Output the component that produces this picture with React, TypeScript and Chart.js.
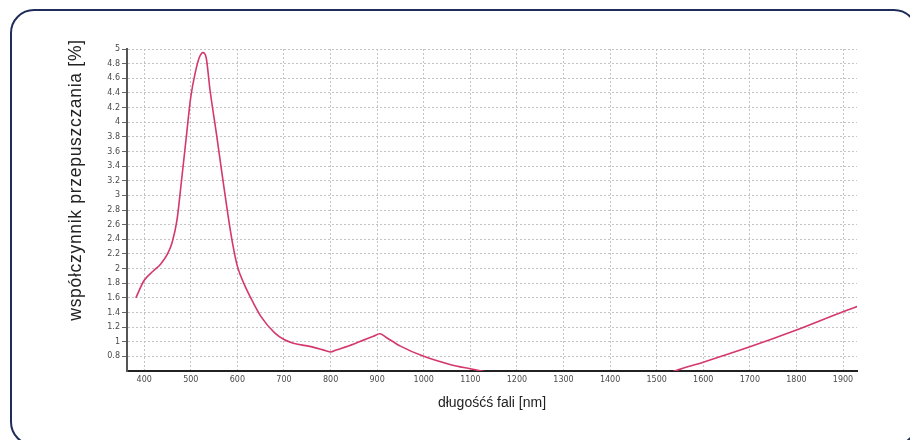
import React, { useEffect, useRef } from "react";
import { Chart, registerables } from "chart.js";

Chart.register(...registerables);

// wavelength [nm]
const wavelengths: number[] = [
  382, 400, 420, 435, 450, 460, 470, 480, 490, 500, 510, 518, 526, 533, 541,
  555, 568, 580, 590, 600, 615, 627, 650, 680, 700, 720, 760, 790, 800, 812, 850, 892, 906,
  918, 950, 1000, 1056, 1100, 1140, 1330, 1520, 1539, 1600, 1700, 1800, 1900, 1935,
];
// transmission coefficient [%]
const transmission: (number | null)[] = [
  1.6, 1.84, 1.97, 2.06, 2.2, 2.36, 2.65, 3.2, 3.78, 4.35, 4.69, 4.88, 4.95, 4.88, 4.45,
  3.84, 3.25, 2.72, 2.33, 2.03, 1.78, 1.62, 1.35, 1.12, 1.03, 0.98, 0.93, 0.877, 0.86, 0.886, 0.97, 1.075, 1.11,
  1.065, 0.94, 0.8, 0.69, 0.63, 0.58, null, 0.55, 0.6, 0.72, 0.93, 1.16, 1.41, 1.49,
];

const xTicks: number[] = [400, 500, 600, 700, 800, 900, 1000, 1100, 1200, 1300, 1400, 1500, 1600, 1700, 1800, 1900];
const yTicks: number[] = [0.8, 1, 1.2, 1.4, 1.6, 1.8, 2, 2.2, 2.4, 2.6, 2.8, 3, 3.2, 3.4, 3.6, 3.8, 4, 4.2, 4.4, 4.6, 4.8, 5];

const xTitle = "długośćś fali [nm]";
const yTitle = "współczynnik przepuszczania [%]";

const yTitlePlugin = {
  id: "yTitleText",
  afterDraw(chart: any) {
    const { ctx, chartArea } = chart;
    ctx.save();
    ctx.translate(chartArea.left - 51, chartArea.top + 131);
    ctx.rotate(-Math.PI / 2);
    ctx.font = "17.5px 'Liberation Sans', Arial, sans-serif";
    (ctx as any).letterSpacing = "0.7px";
    ctx.fillStyle = "#222";
    ctx.textAlign = "center";
    ctx.textBaseline = "middle";
    ctx.fillText(yTitle, 0, 0);
    ctx.restore();
  },
};

export default function App() {
  const ref = useRef<HTMLCanvasElement>(null);

  useEffect(() => {
    if (!ref.current) return;
    const tickFont = { family: "'DejaVu Sans', sans-serif", size: 8 };
    const chart = new Chart(ref.current, {
      type: "line",
      data: {
        datasets: [
          {
            data: wavelengths.map((x, i) => ({ x, y: transmission[i] })) as any,
            borderColor: "#d4386c",
            borderWidth: 1.6,
            pointRadius: 0,
            cubicInterpolationMode: "monotone",
            spanGaps: false,
            clip: 0 as any,
            fill: false,
          },
        ],
      },
      options: {
        responsive: false,
        animation: false,
        devicePixelRatio: 1,
        layout: { padding: { left: 66, top: 49, right: 53, bottom: 0 } },
        plugins: { legend: { display: false }, tooltip: { enabled: false } },
        scales: {
          x: {
            type: "linear",
            min: 363,
            max: 1930,
            afterFit: (s: any) => {
              s.height = 69;
            },
            afterBuildTicks: (s: any) => {
              s.ticks = xTicks.map((v) => ({ value: v }));
            },
            ticks: {
              font: tickFont,
              color: "#4a4a4a",
              padding: 4,
              maxRotation: 0,
              autoSkip: false,
              callback: (v: any) => String(v),
            },
            grid: { color: "#c4c4c4", lineWidth: 1, drawTicks: false },
            border: { display: true, color: "#222", width: 2, dash: [2, 2] },
            title: {
              display: true,
              text: xTitle,
              color: "#222",
              font: { family: "'Liberation Sans', Arial, sans-serif", size: 14 },
              padding: { top: 0, bottom: 28 },
            },
          },
          y: {
            type: "linear",
            min: 0.6,
            max: 5,
            afterFit: (s: any) => {
              s.width = 61;
            },
            afterBuildTicks: (s: any) => {
              s.ticks = yTicks.map((v) => ({ value: v }));
            },
            ticks: {
              font: tickFont,
              color: "#4a4a4a",
              padding: 2,
              autoSkip: false,
              callback: (v: any) => String(Number(Number(v).toFixed(1))),
            },
            grid: {
              color: "#c4c4c4",
              lineWidth: 1,
              drawTicks: true,
              tickLength: 5,
              tickColor: "#666",
              tickWidth: 1,
              tickBorderDash: [],
            },
            border: { display: true, color: "#555", width: 2, dash: [2, 2] },
            title: { display: false },
          },
        },
      } as any,
      plugins: [yTitlePlugin],
    });
    return () => chart.destroy();
  }, []);

  return (
    <div
      style={{
        position: "fixed",
        left: 0,
        top: 0,
        width: 910,
        height: 440,
        overflow: "hidden",
        background: "#fff",
      }}
    >
      <div
        style={{
          position: "absolute",
          left: 10,
          top: 9,
          width: 908,
          height: 437,
          border: "2px solid #1e2d5a",
          borderRadius: 24,
          boxSizing: "border-box",
        }}
      />
      <canvas
        ref={ref}
        width={910}
        height={440}
        style={{ position: "absolute", left: 0, top: 0, width: 910, height: 440, display: "block" }}
      />
    </div>
  );
}
